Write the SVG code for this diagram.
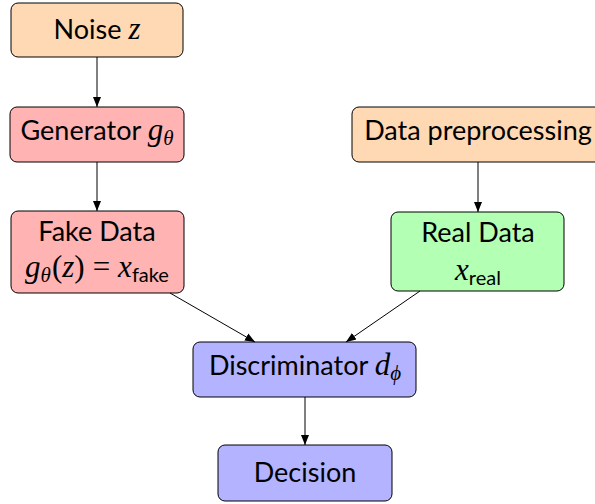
<svg xmlns="http://www.w3.org/2000/svg" width="595" height="504" viewBox="0 0 595 504">
  <style>
    .box { stroke: #000; stroke-width: 1; }
    .orange { fill: #FFD9B3; }
    .red { fill: #FFB3B3; }
    .green { fill: #B3FFB3; }
    .blue { fill: #B3B3FF; }
    .lbl { font-family: Lato, "Noto Sans", sans-serif; font-size: 27px; fill: #000; text-anchor: middle; }
    .m { font-family: "Liberation Serif", "DejaVu Serif", serif; font-style: italic; font-size: 31px; }
    .mu { font-family: "Liberation Serif", "DejaVu Serif", serif; font-style: normal; font-size: 31px; }
    .sub { font-family: Lato, "Noto Sans", sans-serif; font-style: normal; font-size: 20px; }
    .subm { font-family: "Liberation Serif", "DejaVu Serif", serif; font-style: italic; font-size: 21px; }
    .edge { stroke: #000; stroke-width: 1; fill: none; marker-end: url(#arrow); }
  </style>
  <defs>
    <marker id="arrow" viewBox="0 0 10 10" refX="10" refY="5" markerWidth="10" markerHeight="10" markerUnits="userSpaceOnUse" orient="auto">
      <path d="M0,1 L10,5 L0,9 Z" fill="#000"/>
    </marker>
  </defs>

  <g id="noise">
    <rect class="box orange" x="11" y="3" width="172" height="54" rx="7"/>
    <text class="lbl" x="97" y="39">Noise <tspan class="m">z</tspan></text>
  </g>

  <g id="generator">
    <rect class="box red" x="10" y="107" width="174" height="55" rx="7"/>
    <text class="lbl" x="97" y="140">Generator <tspan class="m">g</tspan><tspan class="subm" dy="5">θ</tspan></text>
  </g>

  <g id="fake-data">
    <rect class="box red" x="11" y="211" width="173" height="82" rx="7"/>
    <text class="lbl" x="97" y="241">Fake Data</text>
    <text class="lbl" x="97" y="277"><tspan class="m">g</tspan><tspan class="subm" dy="5">θ</tspan><tspan class="mu" dy="-5" dx="1">(</tspan><tspan class="m">z</tspan><tspan class="mu">)</tspan><tspan class="mu" dx="8">=</tspan><tspan class="m" dx="8">x</tspan><tspan class="sub" dy="5">fake</tspan></text>
  </g>

  <g id="preprocessing">
    <rect class="box orange" x="352" y="107" width="252" height="55" rx="7"/>
    <text class="lbl" x="478" y="140">Data preprocessing</text>
  </g>

  <g id="real-data">
    <rect class="box green" x="391" y="212" width="173" height="79" rx="7"/>
    <text class="lbl" x="478" y="242">Real Data</text>
    <text class="lbl" x="478" y="280"><tspan class="m">x</tspan><tspan class="sub" dy="5">real</tspan></text>
  </g>

  <g id="discriminator">
    <rect class="box blue" x="193" y="342" width="223" height="55" rx="7"/>
    <text class="lbl" x="305" y="375">Discriminator <tspan class="m">d</tspan><tspan class="subm" dy="5">ϕ</tspan></text>
  </g>

  <g id="decision">
    <rect class="box blue" x="218" y="445" width="174" height="56" rx="7"/>
    <text class="lbl" x="305" y="482">Decision</text>
  </g>

  <g id="connectors">
    <line class="edge" x1="97" y1="57" x2="97" y2="107"/>
    <line class="edge" x1="97" y1="162" x2="97" y2="211"/>
    <line class="edge" x1="478" y1="162" x2="478" y2="212"/>
    <line class="edge" x1="170" y1="293" x2="255" y2="342"/>
    <line class="edge" x1="420" y1="291" x2="346" y2="342"/>
    <line class="edge" x1="305" y1="397" x2="305" y2="445"/>
  </g>
</svg>
